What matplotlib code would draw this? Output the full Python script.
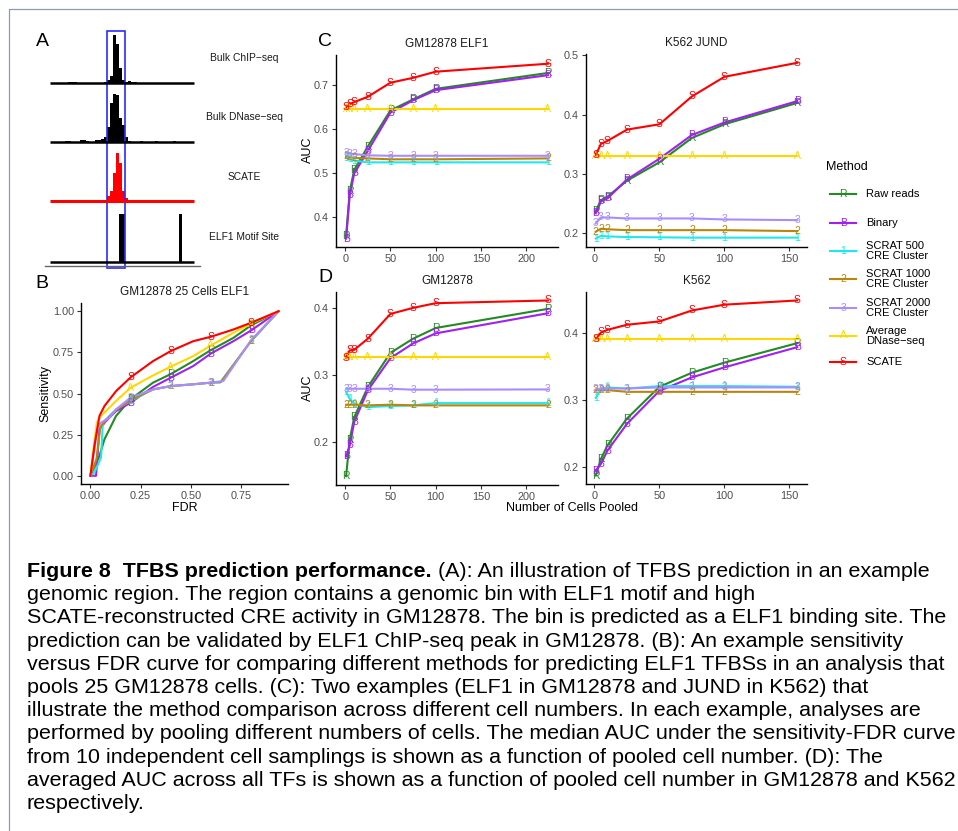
import matplotlib.pyplot as plt
from matplotlib.patches import Rectangle

plt.rcParams['font.family'] = ['Liberation Sans', 'DejaVu Sans']

W, H = 958, 831

# ---------------- Data ----------------
# Panel A: genome tracks, 48 bins
chip_signal = [
    0, 0, 0, 0, 0, 0, 0.02, 0.02, 0.02, 0, 0, 0,
    0, 0, 0, 0, 0, 0, 0.02, 0.05, 0.13, 1.0, 0.8, 0.3,
    0.06, 0.02, 0.03, 0.02, 0.02, 0, 0, 0, 0, 0, 0, 0,
    0, 0, 0, 0, 0, 0, 0, 0, 0, 0, 0, 0]
dnase_signal = [
    0, 0, 0, 0, 0, 0.02, 0.02, 0, 0, 0, 0.03, 0.03,
    0.02, 0, 0, 0.04, 0.03, 0.05, 0.1, 0.3, 0.8, 1.0, 0.97, 0.5,
    0.35, 0.1, 0.02, 0, 0, 0, 0.02, 0, 0, 0, 0, 0.01,
    0, 0, 0, 0, 0, 0.02, 0, 0, 0, 0, 0, 0]
scate_signal = [
    0, 0.03, 0.03, 0, 0.02, 0.03, 0, 0, 0, 0, 0.02, 0,
    0, 0, 0, 0, 0, 0, 0, 0.1, 0.21, 0.58, 1.0, 0.8,
    0.21, 0.06, 0.02, 0, 0.03, 0.03, 0, 0, 0, 0, 0, 0.02,
    0, 0, 0, 0, 0, 0.02, 0.02, 0, 0, 0, 0, 0]
motif_signal = [
    0, 0, 0, 0, 0, 0, 0, 0, 0, 0, 0, 0,
    0, 0, 0, 0, 0, 0, 0, 0, 0, 0, 0, 1,
    1, 0, 0, 0, 0, 0, 0, 0, 0, 0, 0, 0,
    0, 0, 0, 0, 0, 0, 0, 1, 0, 0, 0, 0]
track_names = ['Bulk ChIP\u2212seq', 'Bulk DNase\u2212seq', 'SCATE', 'ELF1 Motif Site']

# Methods
letters = ['R', 'B', '1', '2', '3', 'A', 'S']
method_names = ['Raw reads', 'Binary', 'SCRAT 500\nCRE Cluster', 'SCRAT 1000\nCRE Cluster',
                'SCRAT 2000\nCRE Cluster', 'Average\nDNase\u2212seq', 'SCATE']
colors = ['#228b22', '#a020f0', '#1ee8ee', '#b8860b', '#ab8cff', '#ffd700', '#ff0000']

# Panel B: sensitivity vs FDR (GM12878, 25 cells, ELF1)
fdr_raw = [0, 0.045, 0.07, 0.128, 0.2, 0.312, 0.4, 0.512, 0.6, 0.712, 0.8, 0.937]
sens_raw = [0, 0.121, 0.222, 0.364, 0.465, 0.566, 0.618, 0.697, 0.764, 0.838, 0.914, 1.0]
fdr_bin = [0, 0.028, 0.045, 0.078, 0.128, 0.2, 0.312, 0.4, 0.512, 0.6, 0.712, 0.8, 0.937]
sens_bin = [0, 0, 0.283, 0.333, 0.394, 0.444, 0.54, 0.596, 0.667, 0.743, 0.818, 0.883, 1.0]
fdr_s500 = [0, 0.02, 0.053, 0.062, 0.095, 0.128, 0.2, 0.312, 0.4, 0.512, 0.6, 0.645, 0.8, 0.937]
sens_s500 = [0, 0.02, 0.111, 0.323, 0.364, 0.404, 0.455, 0.525, 0.545, 0.556, 0.566, 0.566, 0.818, 1.0]
fdr_s1000 = [0, 0.03, 0.05, 0.095, 0.128, 0.2, 0.312, 0.4, 0.512, 0.6, 0.65, 0.8, 0.937]
sens_s1000 = [0, 0.1, 0.3, 0.36, 0.4, 0.46, 0.525, 0.545, 0.556, 0.566, 0.57, 0.82, 1.0]
fdr_s2000 = [0, 0.037, 0.053, 0.095, 0.128, 0.2, 0.312, 0.4, 0.512, 0.6, 0.662, 0.8, 0.937]
sens_s2000 = [0, 0.303, 0.323, 0.354, 0.404, 0.475, 0.525, 0.545, 0.556, 0.566, 0.576, 0.824, 1.0]
fdr_avg = [0, 0.015, 0.032, 0.053, 0.128, 0.2, 0.312, 0.4, 0.512, 0.6, 0.712, 0.8, 0.937]
sens_avg = [0, 0.162, 0.323, 0.364, 0.455, 0.535, 0.61, 0.663, 0.727, 0.792, 0.869, 0.925, 1.0]
fdr_scate = [0, 0.02, 0.045, 0.07, 0.128, 0.2, 0.312, 0.4, 0.512, 0.6, 0.712, 0.8, 0.937]
sens_scate = [0, 0.182, 0.364, 0.424, 0.515, 0.598, 0.697, 0.758, 0.818, 0.845, 0.889, 0.93, 1.0]
fdr_label_at = [0.2, 0.4, 0.6, 0.8]

# Panels C and D: AUC vs number of pooled cells
cells_gm = [1, 5, 10, 25, 50, 75, 100, 224]
cells_k562 = [1, 5, 10, 25, 50, 75, 100, 156]

elf1_gm = [
    [0.357, 0.459, 0.508, 0.561, 0.643, 0.668, 0.692, 0.728],
    [0.352, 0.450, 0.500, 0.551, 0.638, 0.666, 0.689, 0.723],
    [0.536, 0.532, 0.529, 0.525, 0.525, 0.525, 0.525, 0.525],
    [0.539, 0.537, 0.535, 0.534, 0.532, 0.532, 0.532, 0.534],
    [0.547, 0.545, 0.544, 0.541, 0.540, 0.540, 0.540, 0.540],
    [0.6457] * 8,
    [0.650, 0.657, 0.662, 0.674, 0.706, 0.717, 0.731, 0.749]]
jund_k562 = [
    [0.238, 0.256, 0.262, 0.289, 0.320, 0.361, 0.384, 0.420],
    [0.234, 0.254, 0.259, 0.291, 0.326, 0.366, 0.387, 0.423],
    [0.1915, 0.196, 0.195, 0.194, 0.1935, 0.193, 0.193, 0.193],
    [0.203, 0.208, 0.207, 0.2056, 0.2056, 0.2056, 0.2056, 0.204],
    [0.217, 0.227, 0.227, 0.2253, 0.2253, 0.2253, 0.2236, 0.2225],
    [0.331] * 8,
    [0.3325, 0.351, 0.356, 0.375, 0.384, 0.431, 0.464, 0.4876]]
avg_gm = [
    [0.149, 0.2035, 0.237, 0.282, 0.333, 0.354, 0.370, 0.3985],
    [0.1787, 0.195, 0.230, 0.277, 0.325, 0.347, 0.362, 0.392],
    [0.2744, 0.2645, 0.257, 0.252, 0.2536, 0.2546, 0.258, 0.258],
    [0.2556, 0.2556, 0.2556, 0.2546, 0.2556, 0.2546, 0.2546, 0.2546],
    [0.2794, 0.2794, 0.2794, 0.2794, 0.2794, 0.278, 0.278, 0.2784],
    [0.3265] * 8,
    [0.3256, 0.3365, 0.3375, 0.354, 0.391, 0.400, 0.407, 0.411]]
avg_k562 = [
    [0.1865, 0.2116, 0.2317, 0.272, 0.3196, 0.3407, 0.3558, 0.385],
    [0.194, 0.204, 0.224, 0.264, 0.3136, 0.3337, 0.3487, 0.379],
    [0.303, 0.3156, 0.3186, 0.317, 0.3206, 0.3206, 0.3206, 0.3196],
    [0.3146, 0.3146, 0.3146, 0.312, 0.312, 0.312, 0.312, 0.312],
    [0.3156, 0.317, 0.317, 0.317, 0.3186, 0.3186, 0.3186, 0.3186],
    [0.391] * 8,
    [0.391, 0.401, 0.405, 0.4126, 0.4176, 0.434, 0.4427, 0.449]]

caption_bold = 'Figure 8  TFBS prediction performance.'
caption_lines = [
    ' (A): An illustration of TFBS prediction in an example',
    'genomic region. The region contains a genomic bin with ELF1 motif and high',
    'SCATE-reconstructed CRE activity in GM12878. The bin is predicted as a ELF1 binding site. The',
    'prediction can be validated by ELF1 ChIP-seq peak in GM12878. (B): An example sensitivity',
    'versus FDR curve for comparing different methods for predicting ELF1 TFBSs in an analysis that',
    'pools 25 GM12878 cells. (C): Two examples (ELF1 in GM12878 and JUND in K562) that',
    'illustrate the method comparison across different cell numbers. In each example, analyses are',
    'performed by pooling different numbers of cells. The median AUC under the sensitivity-FDR curve',
    'from 10 independent cell samplings is shown as a function of pooled cell number. (D): The',
    'averaged AUC across all TFs is shown as a function of pooled cell number in GM12878 and K562',
    'respectively.']

# ---------------- Figure ----------------
fig = plt.figure(figsize=(W / 100, H / 100), dpi=100)
fig.patch.set_facecolor('white')

# overlay axes in pixel coordinates (y down)
ov = fig.add_axes([0, 0, 1, 1])
ov.set_xlim(0, W)
ov.set_ylim(H, 0)
ov.axis('off')

LETTER_FS = 7.5


def px_axes(l, t, r, b):
    return fig.add_axes([l / W, 1 - b / H, (r - l) / W, (b - t) / H])


def gg_lim(vals, frac=0.05):
    lo, hi = min(vals), max(vals)
    pad = (hi - lo) * frac
    return lo - pad, hi + pad


def style_axes(ax):
    for s in ['top', 'right']:
        ax.spines[s].set_visible(False)
    for s in ['left', 'bottom']:
        ax.spines[s].set_linewidth(1.0)
        ax.spines[s].set_color('black')
    ax.tick_params(length=3, width=0.8, color='#333333', labelcolor='#4d4d4d',
                   labelsize=7.8, pad=2)
    ax.set_facecolor('white')


# border of the figure box
ov.plot([9, 9, W], [H, 9, 9], color='#8a9ab5', lw=0.9)

# ---------------- Panel A ----------------
baselines = [82.7, 141.7, 201.0, 261.7]
track_colors = ['black', 'black', 'red', 'black']
tracks = [chip_signal, dnase_signal, scate_signal, motif_signal]
x0, bw, hmax = 50, 3, 48
for sig, base, col in zip(tracks, baselines, track_colors):
    xs = [x0 + bw * i for i in range(len(sig))]
    ov.bar(xs, [-v * hmax for v in sig], width=bw, bottom=base, align='edge',
           color=col, linewidth=0)
    ov.plot([x0, x0 + bw * len(sig)], [base, base], color=col,
            lw=2.2 if col == 'red' else 1.8, solid_capstyle='butt')
for name, base in zip(track_names, baselines):
    ov.text(244.5, base - 24.5, name, fontsize=7.4, ha='center', va='center',
            color='#1a1a1a')
ov.add_patch(Rectangle((106.7, 30.7), 18.6, 237.6, fill=False,
                       edgecolor='#2b2bff', lw=1.2))
ov.plot([45, 200], [265.5, 265.5], color='#666666', lw=1.0)

# panel letters
for lab, (lx, ly) in zip('ABCD', [(42, 42), (42, 283), (325, 42), (325, 278)]):
    ov.text(lx, ly, lab, fontsize=14, ha='center', va='center', color='black')

# ---------------- Panel B ----------------
axB = px_axes(81, 303, 288, 484)
style_axes(axB)
curves_fdr = [fdr_raw, fdr_bin, fdr_s500, fdr_s1000, fdr_s2000, fdr_avg, fdr_scate]
curves_sens = [sens_raw, sens_bin, sens_s500, sens_s1000, sens_s2000, sens_avg, sens_scate]
for fx, sy, col in zip(curves_fdr, curves_sens, colors):
    axB.plot(fx, sy, color=col, lw=1.5, zorder=2)
for fx, sy, col, let in zip(curves_fdr, curves_sens, colors, letters):
    for a, b in zip(fx, sy):
        if round(a, 3) in fdr_label_at:
            axB.text(a, b, let, color=col, fontsize=LETTER_FS, ha='center', va='center', zorder=3)
all_fdr = [v for c in curves_fdr for v in c]
all_sens = [v for c in curves_sens for v in c]
axB.set_xlim(*gg_lim(all_fdr))
axB.set_ylim(*gg_lim(all_sens))
axB.set_xticks([0, 0.25, 0.5, 0.75])
axB.set_xticklabels(['0.00', '0.25', '0.50', '0.75'])
axB.set_yticks([0, 0.25, 0.5, 0.75, 1.0])
axB.set_yticklabels(['0.00', '0.25', '0.50', '0.75', '1.00'])
ov.text(185, 292, 'GM12878 25 Cells ELF1', fontsize=8.5, ha='center', va='center', color='#1a1a1a')
ov.text(185, 508, 'FDR', fontsize=9, ha='center', va='center')
ov.text(45, 393, 'Sensitivity', fontsize=9, ha='center', va='center', rotation=90)


# ---------------- Panels C and D ----------------
def auc_panel(box, cells, series, xticks, yticks, title):
    ax = px_axes(*box)
    style_axes(ax)
    for ys, col in zip(series, colors):
        ax.plot(cells, ys, color=col, lw=1.5, zorder=2)
    for ys, col, let in zip(series, colors, letters):
        for a, b in zip(cells, ys):
            ax.text(a, b, let, color=col, fontsize=LETTER_FS, ha='center', va='center', zorder=3)
    ax.set_xlim(*gg_lim(cells))
    ax.set_ylim(*gg_lim([v for s in series for v in s]))
    ax.set_xticks(xticks)
    ax.set_yticks(yticks)
    ax.set_yticklabels([f'{v:.1f}' for v in yticks])
    cx = (box[0] + box[2]) / 2
    ov.text(cx, box[1] - 11, title, fontsize=8.5, ha='center', va='center', color='#1a1a1a')
    return ax


auc_panel((336, 55, 558, 247.3), cells_gm, elf1_gm, [0, 50, 100, 150, 200],
          [0.4, 0.5, 0.6, 0.7], 'GM12878 ELF1')
auc_panel((585.7, 54, 807.3, 247.3), cells_k562, jund_k562, [0, 50, 100, 150],
          [0.2, 0.3, 0.4, 0.5], 'K562 JUND')
auc_panel((336, 291.7, 558, 485), cells_gm, avg_gm, [0, 50, 100, 150, 200],
          [0.2, 0.3, 0.4], 'GM12878')
auc_panel((585.7, 291.7, 807.3, 484.3), cells_k562, avg_k562, [0, 50, 100, 150],
          [0.2, 0.3, 0.4], 'K562')
ov.text(308, 150, 'AUC', fontsize=9, ha='center', va='center', rotation=90)
ov.text(308, 388, 'AUC', fontsize=9, ha='center', va='center', rotation=90)
ov.text(572, 508, 'Number of Cells Pooled', fontsize=9, ha='center', va='center')

# ---------------- Legend ----------------
ov.text(826, 167, 'Method', fontsize=9, ha='left', va='center')
leg_y = [194, 222.7, 251, 279.3, 307.7, 335.5, 362.3]
for y, name, col, let in zip(leg_y, method_names, colors, letters):
    ov.plot([830, 856.5], [y, y], color=col, lw=1.5)
    ov.text(843.2, y, let, color=col, fontsize=LETTER_FS, ha='center', va='center')
    ov.text(866, y, name, fontsize=8, ha='left', va='center', linespacing=1.0)

# ---------------- Caption ----------------
cap_left, cap_right, cap_base0, cap_step = 27, 955, 577, 23.2
fs0 = 12
t_bold = ov.text(cap_left, cap_base0, caption_bold, fontsize=fs0, fontweight='bold',
                 ha='left', va='baseline')
cap_texts = []
for i, line in enumerate(caption_lines):
    cap_texts.append(ov.text(cap_left, cap_base0 + i * cap_step, line, fontsize=fs0,
                             ha='left', va='baseline'))
fig.canvas.draw()
r = fig.canvas.get_renderer()
widest = max(t.get_window_extent(r).width for t in cap_texts[1:])
fs = fs0 * 930 / widest
for t in cap_texts:
    t.set_fontsize(fs)
fig.canvas.draw()
# bold part fills the room left on the first line
w_rest = cap_texts[0].get_window_extent(r).width
w_bold = t_bold.get_window_extent(r).width
t_bold.set_fontsize(min(fs, fs0 * (cap_right - cap_left - w_rest) / w_bold))
fig.canvas.draw()
bb = t_bold.get_window_extent(r)
cap_texts[0].set_x(bb.x1)

fig.savefig('out.png', dpi=100, facecolor='white')
